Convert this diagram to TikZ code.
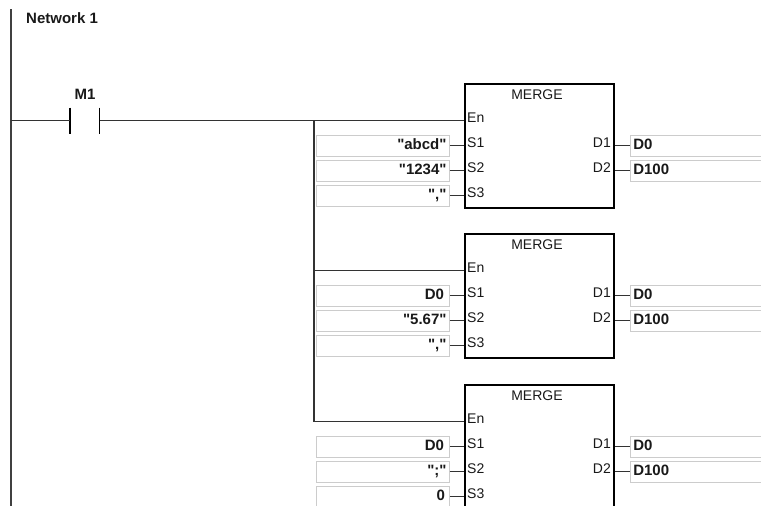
\documentclass[tikz,border=0pt]{standalone}
\usepackage{fontspec}
\newfontfamily\plcfont{Liberation Sans}
\usetikzlibrary{positioning}

\tikzset{
    rail/.style={draw=black!75, line width=2pt},
    wire/.style={draw=black!80, line width=1.2pt},
    contact/.style={draw=black, line width=1.8pt},
    block/.style={draw=black, line width=2pt, anchor=north west, minimum width=149.5pt, minimum height=124pt, inner sep=0pt},
    field/.style={draw=black!20, line width=1pt, minimum height=21pt, inner xsep=2.5pt, inner ysep=0pt, text height=10pt, text depth=2.5pt, font=\plcfont\fontsize{15}{17}\selectfont\bfseries, text=black!90},
    infield/.style={field, anchor=north west, text width=127.5pt, align=right},
    outfield/.style={field, anchor=north west, text width=150pt, align=left},
    pinlabel/.style={inner sep=0pt, font=\plcfont\fontsize{14}{16}\selectfont, text=black!90},
    title/.style={inner sep=0pt, font=\plcfont\fontsize{15}{17}\selectfont\bfseries, text=black!90}
}

\begin{document}
\begin{tikzpicture}[x=1pt, y=-1pt]
    \clip (0,0) rectangle (761,506);

    \coordinate (railtop) at (11,9);
    \coordinate (railbot) at (11,506);
    \draw[rail] (railtop) -- (railbot);
    \node[title, anchor=west] (net) at (26,18) {Network 1};

    \coordinate (m1l) at (70,120.5);
    \coordinate (m1r) at (99.5,120.5);
    \node[title] (m1) at (85,94) {M1};
    \draw[contact] ([yshift=13pt]m1l) -- ([yshift=-13pt]m1l);
    \draw[contact] ([yshift=13pt]m1r) -- ([yshift=-13pt]m1r);
    \draw[wire] (railtop |- m1l) -- (m1l);

    \coordinate (bus) at (314,120.5);

    \foreach \n/\y/\a/\b/\c in {1/82.5/{"abcd"}/{"1234"}/{","}, 2/232.5/{D0\hspace*{2.5pt}}/{"5.67"}/{","}, 3/383.5/{D0\hspace*{2.5pt}}/{";"}/{0\hspace*{1.5pt}}} {
        \node[block] (mrg\n) at (463.7,\y) {};
        \node[pinlabel] (name\n) at (537,\y+12) {MERGE};
        \node[pinlabel, anchor=west] (en\n) at (467,\y+35) {En};
        \node[pinlabel, anchor=west] (sa\n) at (467,\y+60.5) {S1};
        \node[pinlabel, anchor=west] (sb\n) at (467,\y+85.5) {S2};
        \node[pinlabel, anchor=west] (sc\n) at (467,\y+110.5) {S3};
        \node[pinlabel, anchor=east] (da\n) at (611,\y+60.5) {D1};
        \node[pinlabel, anchor=east] (db\n) at (611,\y+85.5) {D2};

        \node[infield] (ina\n) at (316,\y+52) {\a};
        \node[infield] (inb\n) at (316,\y+77) {\b};
        \node[infield] (inc\n) at (316,\y+102) {\c};
        \node[outfield] (outa\n) at (630.3,\y+52) {D0};
        \node[outfield] (outb\n) at (630.3,\y+77) {D100};

        \coordinate (en\n w) at (314,\y+38);
        \draw[wire] (en\n w) -- (en\n w -| mrg\n.west);
        \draw[wire] (ina\n.east) -- (ina\n.east -| mrg\n.west);
        \draw[wire] (inb\n.east) -- (inb\n.east -| mrg\n.west);
        \draw[wire] (inc\n.east) -- (inc\n.east -| mrg\n.west);
        \draw[wire] (outa\n.west -| mrg\n.east) -- (outa\n.west);
        \draw[wire] (outb\n.west -| mrg\n.east) -- (outb\n.west);
    }

    \draw[wire] (m1r) -- (bus);
    \draw[wire] (bus) -- (en3w);
\end{tikzpicture}
\end{document}
